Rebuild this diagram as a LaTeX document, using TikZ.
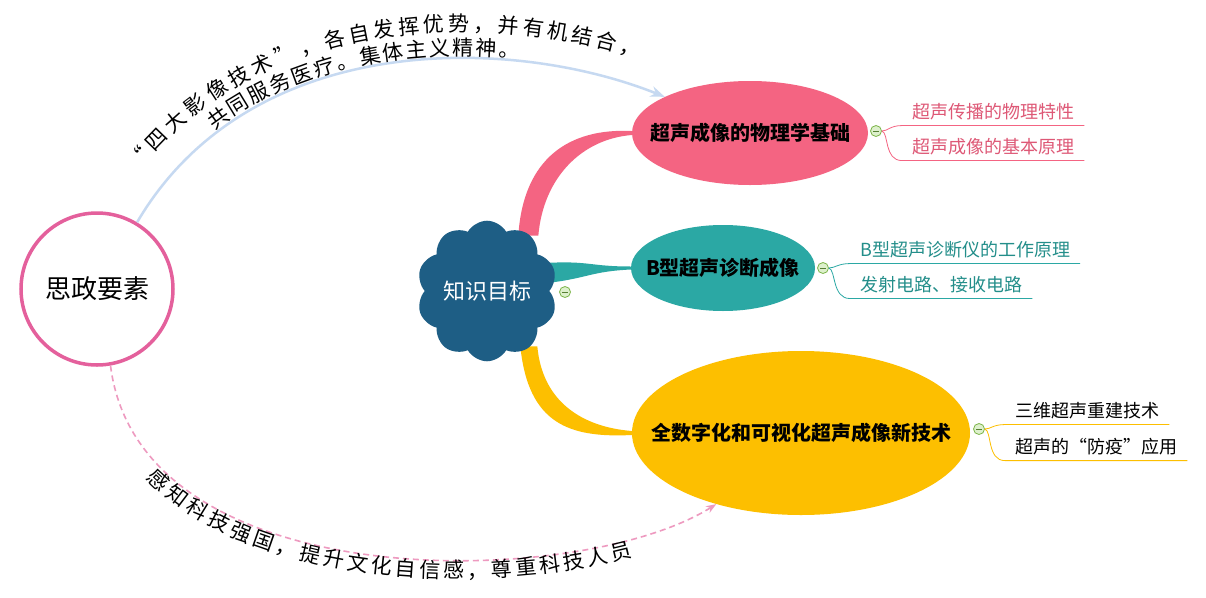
\documentclass[tikz,border=0pt]{standalone}
\usepackage{fontspec}
\setmainfont{Noto Sans CJK SC}
\usepackage{xcolor}
\usetikzlibrary{arrows.meta,positioning,shapes.geometric,shapes.symbols,decorations.text,backgrounds}
\definecolor{rosec}{HTML}{E4609C}
\definecolor{cloudc}{HTML}{1E5E85}
\definecolor{pinkc}{HTML}{F46482}
\definecolor{tealc}{HTML}{2BA8A4}
\definecolor{goldc}{HTML}{FDBF00}
\definecolor{skyc}{HTML}{C6D9F1}
\definecolor{dashc}{HTML}{EE9AC0}
\definecolor{foldc}{HTML}{7DB54A}
\definecolor{foldfill}{HTML}{DDF0CC}
\definecolor{pinktxt}{HTML}{DE5876}
\definecolor{tealtxt}{HTML}{238E8A}
\newcommand\arcsize{\fontsize{21}{21}\selectfont}
\newcommand\nowidth[1]{\makebox[0pt]{#1}}

\begin{document}
\begin{tikzpicture}[
    x=1pt, y=-1pt, >=Stealth,
    root/.style={circle, draw=rosec, line width=3.5pt, fill=white, minimum size=152pt, inner sep=0pt, font=\fontsize{26}{26}\selectfont},
    goal/.style={cloud, cloud puffs=10, cloud puff arc=120, aspect=1, fill=cloudc, text=white, minimum width=139pt, minimum height=138pt, inner sep=0pt, font=\fontsize{22}{22}\selectfont},
    topic/.style={ellipse, inner sep=0pt, font=\bfseries\fontsize{20}{20}\selectfont},
    fold/.style={circle, draw=foldc, fill=foldfill, thick, minimum size=11pt, inner sep=0pt, path picture={\draw[foldc!70!black, line width=1pt] ([xshift=-2.6pt]path picture bounding box.center) -- ([xshift=2.6pt]path picture bounding box.center);}},
    sub/.style={anchor=west, inner xsep=10pt, inner ysep=5pt, font=\fontsize{18}{18}\selectfont}
  ]
    \useasboundingbox (0,0) rectangle (1206,597);
    \node[root] (sz) at (97,289) {思政要素};
    \node[goal] (kn) at (487,291) {知识目标};
    \node[topic, fill=pinkc, minimum width=236pt, minimum height=104pt] (phys) at (750,133) {\nowidth{超声成像的物理学基础}};
    \node[topic, fill=tealc, minimum width=184pt, minimum height=86pt] (bmode) at (723,268) {\nowidth{B型超声诊断成像}};
    \node[topic, fill=goldc, minimum width=338pt, minimum height=164pt] (newtech) at (801,433) {\nowidth{全数字化和可视化超声成像新技术}};
    \node[fold] (knm) at (565,292) {};
    \node[fold] (physm) at (876,131) {};
    \node[fold] (bmodem) at (823,268) {};
    \node[fold] (newtechm) at (979,429) {};
    \node[sub, text=pinktxt] (phys1) at (902,112) {超声传播的物理特性};
    \node[sub, text=pinktxt] (phys2) at (902,147) {超声成像的基本原理};
    \node[sub, text=tealtxt] (bmode1) at (850,250) {B型超声诊断仪的工作原理};
    \node[sub, text=tealtxt] (bmode2) at (850,285) {发射电路、接收电路};
    \node[sub] (newtech1) at (1005,411) {三维超声重建技术};
    \node[sub] (newtech2) at (1005,447) {超声的“防疫”应用};
    \begin{scope}[on background layer]
      \fill[white] (0,0) rectangle (1206,597);
      \fill[pinkc] ([xshift=-12pt]kn.52) .. controls +(5,-78) and +(-62,-3) .. ([yshift=2pt]phys.west) -- ([yshift=-2pt]phys.west) .. controls +(-50,4) and +(5,-58) .. ([xshift=8pt]kn.52) -- cycle;
      \fill[tealc] ([xshift=-6pt,yshift=10pt]kn.15) .. controls +(40,-2) and +(-40,0) .. ([yshift=1.5pt]bmode.west) -- ([yshift=-1.5pt]bmode.west) .. controls +(-40,2) and +(40,-5) .. ([xshift=-6pt,yshift=-10pt]kn.15) -- cycle;
      \fill[goldc] ([xshift=-10pt]kn.-52) .. controls +(8,78) and +(-62,3) .. ([yshift=-2pt]newtech.west) -- ([yshift=2pt]newtech.west) .. controls +(-50,-4) and +(5,55) .. ([xshift=7pt]kn.-52) -- cycle;
    \end{scope}
    \draw[pinkc, thick] (physm.east) .. controls +(6,0) and +(-12,0) .. (phys1.south west) -- (phys1.south east);
    \draw[pinkc, thick] (physm.east) .. controls +(7,2) and +(-18,0) .. (phys2.south west) -- (phys2.south east);
    \draw[tealc, thick] (bmodem.east) .. controls +(6,0) and +(-12,0) .. (bmode1.south west) -- (bmode1.south east);
    \draw[tealc, thick] (bmodem.east) .. controls +(7,2) and +(-18,0) .. (bmode2.south west) -- (bmode2.south east);
    \draw[goldc, thick] (newtechm.east) .. controls +(6,0) and +(-12,0) .. (newtech1.south west) -- (newtech1.south east);
    \draw[goldc, thick] (newtechm.east) .. controls +(7,2) and +(-18,0) .. (newtech2.south west) -- (newtech2.south east);
    \draw[->, skyc, line width=2.5pt] (sz.59) .. controls (250,30) and (510,35) .. (phys.157);
    \draw[->, dashc, line width=1.6pt, dash pattern=on 6pt off 4pt] (sz.-80) .. controls (140,600) and (580,590) .. (newtech.-140);
    \path[decorate, decoration={text along path, raise=3pt, text align={fit to path, left indent=120pt, right indent=150pt}, text={|\arcsize|共同服务医疗。集体主义精神。}}] (sz.59) .. controls (250,30) and (510,35) .. (phys.157);
    \path[decorate, decoration={text along path, raise=27pt, text align={fit to path, left indent=40pt, right indent=36pt}, text={|\arcsize|“四大影像技术”，各自发挥优势，并有机结合，}}] (sz.59) .. controls (250,30) and (510,35) .. (phys.157);
    \path[decorate, decoration={text along path, raise=-18pt, text align={fit to path, left indent=112pt, right indent=95pt}, text={|\arcsize|感知科技强国，提升文化自信感，尊重科技人员}}] (sz.-80) .. controls (140,600) and (580,590) .. (newtech.-140);
\end{tikzpicture}
\end{document}
